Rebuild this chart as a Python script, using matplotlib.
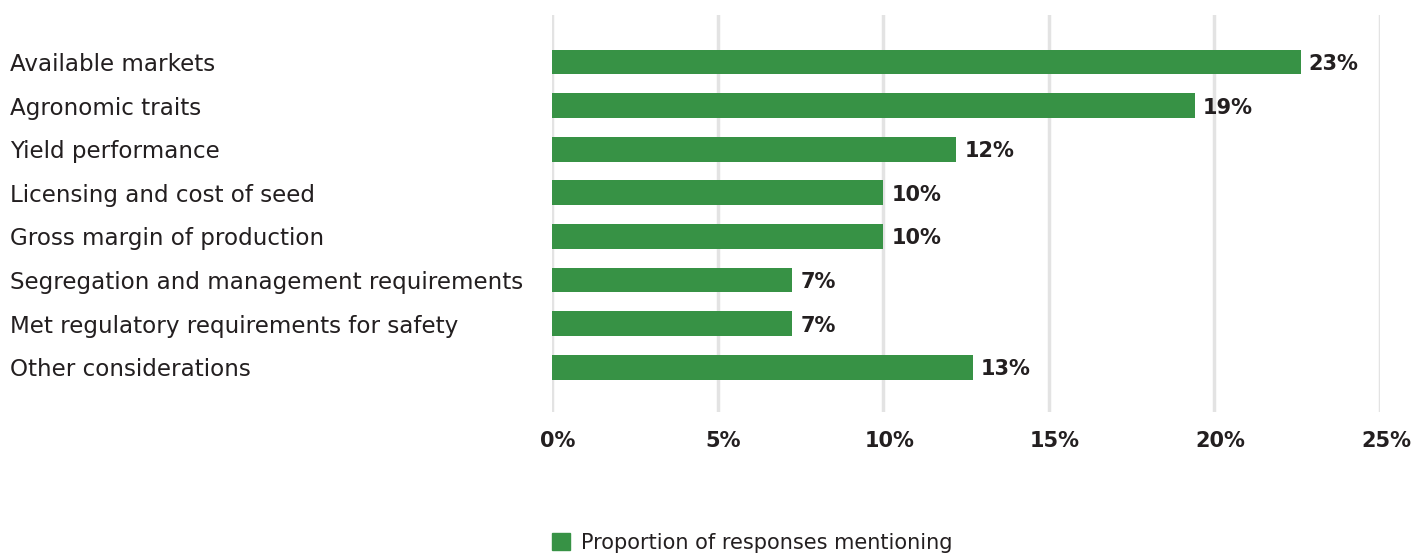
import matplotlib
matplotlib.use("Agg")
import matplotlib.pyplot as plt
import matplotlib.transforms as mtransforms
from matplotlib.patches import Patch

categories = [
    "Available markets",
    "Agronomic traits",
    "Yield performance",
    "Licensing and cost of seed",
    "Gross margin of production",
    "Segregation and management requirements",
    "Met regulatory requirements for safety",
    "Other considerations",
]
values = [22.6, 19.4, 12.2, 10.0, 10.0, 7.25, 7.25, 12.7]
value_labels = ["23%", "19%", "12%", "10%", "10%", "7%", "7%", "13%"]
xticks = [0, 5, 10, 15, 20, 25]
xtick_labels = ["0%", "5%", "10%", "15%", "20%", "25%"]
legend_label = "Proportion of responses mentioning"

GREEN = "#379245"
TEXT = "#231f20"
FONT = ["DejaVu Sans"]
plt.rcParams["font.family"] = FONT

W, H = 1411, 553
fig = plt.figure(figsize=(W / 100, H / 100), dpi=100)
ax = fig.add_axes([552 / W, 1 - 412 / H, (1380 - 552) / W, (412 - 15) / H])

y = list(range(len(categories)))
ax.barh(y, values, height=0.57, color=GREEN, zorder=3)
ax.set_xlim(0, 25)
ax.set_ylim(len(categories) - 1 + 1.03, -1.08)

for xt in xticks:
    ax.axvline(xt, color="#e3e3e3", lw=2.5, zorder=1)

for yi, v, lab in zip(y, values, value_labels):
    ax.annotate(lab, (v, yi), xytext=(6, 0), textcoords="offset points",
                va="center_baseline", ha="left", fontsize=15, fontweight="bold",
                color=TEXT)

trans = mtransforms.blended_transform_factory(fig.transFigure, ax.transData)
for yi, cat in zip(y, categories):
    ax.text(10 / W, yi, cat, transform=trans, ha="left", va="center_baseline",
            fontsize=16.6, color=TEXT, clip_on=False)

ax.set_yticks([])
ax.set_xticks(xticks)
ax.set_xticklabels(xtick_labels, fontsize=15, fontweight="bold", color=TEXT)
ax.tick_params(axis="x", length=0, pad=14)
shift = mtransforms.ScaledTranslation(6 / 100, 0, fig.dpi_scale_trans)
for lbl in ax.get_xticklabels():
    lbl.set_transform(lbl.get_transform() + shift)
for s in ax.spines.values():
    s.set_visible(False)

fig.legend(handles=[Patch(color=GREEN, label=legend_label)],
           loc="lower left", bbox_to_anchor=(552 / W, 0),
           borderaxespad=0, borderpad=0,
           frameon=False, fontsize=15, handlelength=0.85, handleheight=0.85,
           handletextpad=0.55, labelcolor=TEXT)

fig.savefig("out.png", dpi=100)
